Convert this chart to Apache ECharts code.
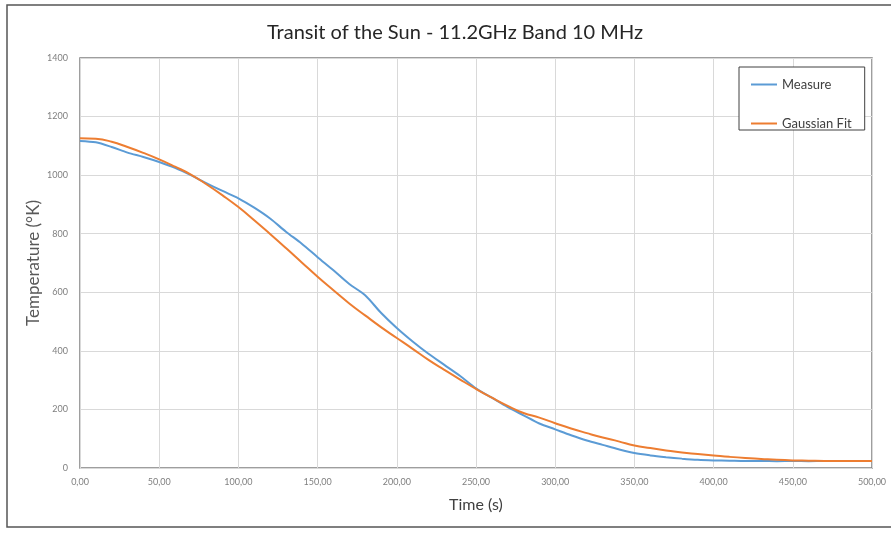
<!DOCTYPE html>
<html>
<head>
<meta charset="utf-8">
<title>Transit of the Sun</title>
<script src="https://cdn.jsdelivr.net/npm/echarts@6/dist/echarts.min.js"></script>
<style>
  html, body { margin: 0; padding: 0; background: #fff; }
  #chart { width: 891px; height: 533px; }
</style>
</head>
<body>
<div id="chart"></div>
<script>
// time axis (s)
var times = [0, 10, 20, 30, 40, 50, 60, 70, 80, 90,
  100, 110, 120, 130, 140, 150, 160, 170, 180, 190,
  200, 210, 220, 230, 240, 250, 260, 270, 280, 290,
  300, 310, 320, 330, 340, 350, 360, 370, 380, 390,
  400, 410, 420, 430, 440, 450, 460, 470, 480, 490, 500];

// measured temperature (K)
var measure = [1117, 1112, 1096, 1077, 1062, 1045, 1025, 1000, 972, 946,
  921, 889, 852, 807, 766, 720, 675, 628, 590, 530,
  478, 432, 390, 352, 314, 272, 240, 208, 180, 152,
  132, 112, 94, 79, 64, 51, 43, 37, 32, 28,
  26, 25, 24, 24, 23, 24, 23, 24, 24, 24, 24];

// gaussian fit (K)
var gaussFit = [1126, 1124, 1114, 1096, 1076, 1054, 1029, 1002, 968, 931,
  891, 846, 799, 751, 702, 653, 607, 562, 521, 481,
  444, 407, 369, 335, 302, 270, 240, 212, 188, 172,
  153, 135, 119, 104, 91, 77, 68, 60, 53, 48,
  43, 38, 34, 31, 28, 26, 25, 24, 24, 24, 24];

var yTicks = [0, 200, 400, 600, 800, 1000, 1200, 1400];

function pairs(ys) {
  return times.map(function (t, i) { return [t, ys[i]]; });
}

var chart = echarts.init(document.getElementById('chart'));
chart.setOption({
  backgroundColor: '#fff',
  animation: false,
  textStyle: { fontFamily: 'Lato, "Open Sans", sans-serif' },
  title: {
    text: 'Transit of the Sun - 11.2GHz Band 10 MHz',
    left: 450,
    textAlign: 'center',
    top: 18,
    textStyle: { fontSize: 20, fontWeight: 'normal', color: '#262626' }
  },
  graphic: [{
    type: 'rect',
    shape: { x: 7, y: 5, width: 895, height: 522 },
    style: { fill: 'none', stroke: '#555', lineWidth: 1.5 },
    silent: true,
    z: -1
  }],
  legend: {
    orient: 'vertical',
    left: 739,
    top: 67,
    padding: [11, 13, 0, 12],
    itemGap: 26,
    itemWidth: 26,
    itemHeight: 2,
    icon: 'rect',
    borderColor: '#404040',
    borderWidth: 1,
    backgroundColor: '#fff',
    textStyle: { fontSize: 13, color: '#404040' },
    data: ['Measure', 'Gaussian Fit']
  },
  grid: {
    left: 80,
    right: 19,
    top: 58,
    bottom: 65,
    show: true,
    borderColor: '#7f7f7f',
    borderWidth: 1.5
  },
  xAxis: {
    type: 'value',
    min: 0,
    max: 500,
    interval: 50,
    name: 'Time (s)',
    nameLocation: 'middle',
    nameGap: 29,
    nameMoveOverlap: false,
    nameTextStyle: { fontSize: 16, color: '#404040' },
    axisLine: { show: false },
    axisTick: { show: false },
    axisLabel: {
      fontSize: 9,
      color: '#7f7f7f',
      margin: 10,
      formatter: function (v) { return v.toFixed(2).replace('.', ','); }
    },
    splitLine: { lineStyle: { color: '#d9d9d9', width: 1 } }
  },
  yAxis: {
    type: 'value',
    min: yTicks[0],
    max: yTicks[yTicks.length - 1],
    interval: 200,
    name: 'Temperature (°K)',
    nameLocation: 'middle',
    nameGap: 38,
    nameMoveOverlap: false,
    nameTextStyle: { fontSize: 17, color: '#595959' },
    axisLine: { show: false },
    axisTick: { show: false },
    axisLabel: {
      fontSize: 9,
      color: '#7f7f7f',
      margin: 12,
      formatter: function (v) { return String(v); }
    },
    splitLine: { lineStyle: { color: '#d9d9d9', width: 1 } }
  },
  series: [{
    name: 'Measure',
    type: 'line',
    data: pairs(measure),
    showSymbol: false,
    smooth: 0.3,
    itemStyle: { color: '#5B9BD5' },
    lineStyle: { color: '#5B9BD5', width: 2 }
  }, {
    name: 'Gaussian Fit',
    type: 'line',
    data: pairs(gaussFit),
    showSymbol: false,
    smooth: true,
    itemStyle: { color: '#ED7D31' },
    lineStyle: { color: '#ED7D31', width: 2 }
  }]
});
</script>
</body>
</html>
